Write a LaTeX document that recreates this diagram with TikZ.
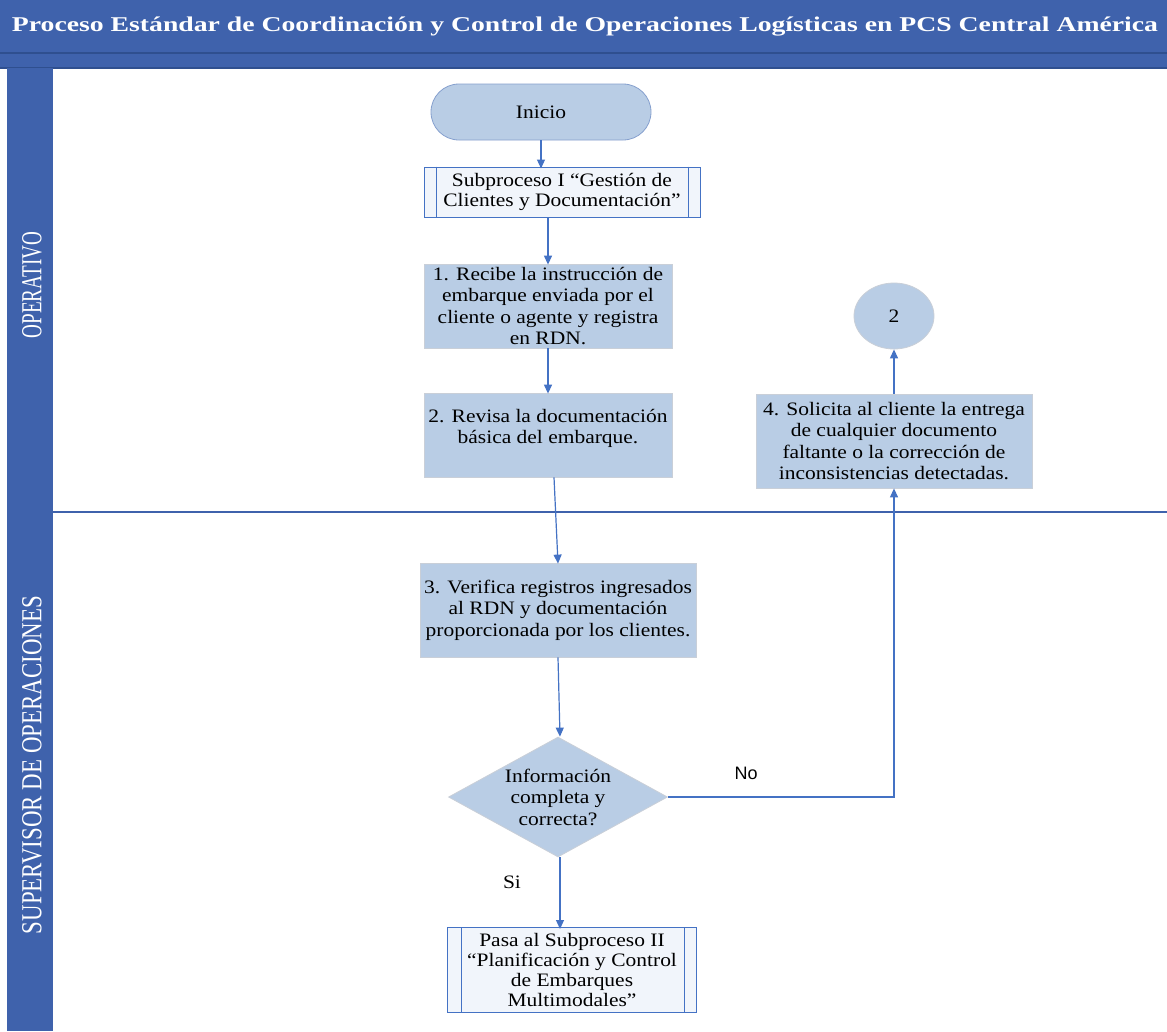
\documentclass[tikz,border=0pt]{standalone}
\usepackage{fontspec}
\setmainfont{Liberation Serif}[FakeStretch=1.13]
\newfontfamily\sansf{Liberation Sans}
\newfontfamily\plainserif{Liberation Serif}
\usetikzlibrary{shapes.geometric,arrows.meta,calc}
\definecolor{hdr}{HTML}{3F62AC}
\definecolor{hdrline}{HTML}{2F4F8F}
\definecolor{boxfill}{HTML}{B9CDE5}
\definecolor{boxline}{HTML}{C9CFD8}
\definecolor{arr}{HTML}{4472C4}
\definecolor{subfill}{HTML}{F1F5FB}
\begin{document}
\begin{tikzpicture}[x=1pt,y=-1pt,
  txt/.style={font=\fontsize{19}{21.5}\selectfont, align=center},
  proc/.style={txt, draw=boxline, line width=0.8pt, fill=boxfill, inner sep=0pt},
  subproc/.style={txt, draw=arr, line width=1pt, fill=subfill, inner sep=0pt},
  term/.style={txt, draw=boxline!50!arr, line width=0.8pt, fill=boxfill, rounded corners=28pt,
    minimum width=220pt, minimum height=56pt, inner sep=0pt},
  conn/.style={txt, ellipse, draw=boxline, line width=0.8pt, fill=boxfill,
    minimum width=80pt, minimum height=66pt, inner sep=0pt},
  decision/.style={diamond, draw=boxline, line width=0.8pt, fill=boxfill,
    minimum width=219pt, minimum height=120pt, inner sep=0pt},
  flow/.style={draw=arr, line width=1.2pt, -{Triangle[length=9pt,width=8pt]}},
  lane/.style={text=white, font=\plainserif\fontsize{29}{29}\selectfont, rotate=90}
]
\useasboundingbox (0,0) rectangle (1167,1031);
\fill[white] (0,0) rectangle (1167,1031);

% header bands
\fill[hdr] (0,0) rectangle (1167,68);
\draw[hdrline, line width=1.5pt] (0,53) -- (1167,53);
\draw[hdrline, line width=1.5pt] (0,68) -- (1167,68);
\node[text=white, font=\plainserif\bfseries\fontsize{21}{21}\selectfont] (title) at (585,27)
  {\scalebox{1.32}[1]{Proceso Estándar de Coordinación y Control de Operaciones Logísticas en PCS Central América}};

% lane strip and lane separator
\fill[hdr] (7,68) rectangle (53,1031);
\draw[hdr, line width=2pt] (7,512) -- (1167,512);
\node[lane] (laneA) at (32,285) {\scalebox{0.66}[1]{OPERATIVO}};
\node[lane] (laneB) at (32,765) {\scalebox{0.79}[1]{SUPERVISOR DE OPERACIONES}};

% flow nodes
\node[term] (ini) at (541,112) {Inicio};
\node[subproc, minimum width=276pt, minimum height=50pt, font=\fontsize{19}{20}\selectfont] (sub1) at (562,192)
  {Subproceso I “Gestión de\\Clientes y Documentación”};
\draw[arr, line width=1pt] ([xshift=13pt]sub1.north west) -- ([xshift=13pt]sub1.south west);
\draw[arr, line width=1pt] ([xshift=-12pt]sub1.north east) -- ([xshift=-12pt]sub1.south east);

\node[proc, minimum width=248pt, minimum height=84pt] (b1) at (548,306)
  {1. Recibe la instrucción de\\embarque enviada por el\\cliente o agente y registra\\en RDN.};
\node[proc, minimum width=248pt, minimum height=84pt] (b2) at (548,435)
  {2. Revisa la documentación\\básica del embarque.\\[-4pt]\mbox{}};
\node[proc, minimum width=276pt, minimum height=94pt] (b3) at (558,610)
  {3. Verifica registros ingresados\\al RDN y documentación\\proporcionada por los clientes.};
\node[decision] (d) at (558,797) {};
\node[txt] (dtext) at (d.center) {Información\\completa y\\correcta?};
\node[proc, minimum width=276pt, minimum height=94pt] (b4) at (894,441)
  {4. Solicita al cliente la entrega\\de cualquier documento\\faltante o la corrección de\\inconsistencias detectadas.};
\node[conn] (c2) at (894,316) {2};
\node[subproc, minimum width=249pt, minimum height=85pt, font=\fontsize{19}{20}\selectfont] (sub2) at (572,970)
  {Pasa al Subproceso II\\“Planificación y Control\\de Embarques\\Multimodales”};
\draw[arr, line width=1pt] ([xshift=14pt]sub2.north west) -- ([xshift=14pt]sub2.south west);
\draw[arr, line width=1pt] ([xshift=-13pt]sub2.north east) -- ([xshift=-13pt]sub2.south east);

% connectors
\draw[flow] (ini.south) -- ([yshift=-2pt]ini.south |- sub1.north);
\draw[flow] ([xshift=-14pt]sub1.south) -- ([yshift=-1pt]b1.north);
\draw[flow] (b1.south) -- ([yshift=-1pt]b2.north);
\draw[flow] ([xshift=6pt]b2.south) -- ([yshift=-1pt]b3.north);
\draw[flow] (b3.south) -- ([xshift=2pt]d.north);
\draw[flow] ([xshift=2pt]d.south) -- ([xshift=2pt,yshift=-2pt]d.south |- sub2.north);
\draw[flow] (d.east) -- (d.east -| b4.south) -- (b4.south);
\draw[flow] (b4.north) -- (c2.south);

% branch labels
\node[font=\sansf\fontsize{18}{18}\selectfont] (lno) at (746,773) {No};
\node[font=\fontsize{19}{19}\selectfont] (lsi) at (512,882) {Si};
\end{tikzpicture}
\end{document}
